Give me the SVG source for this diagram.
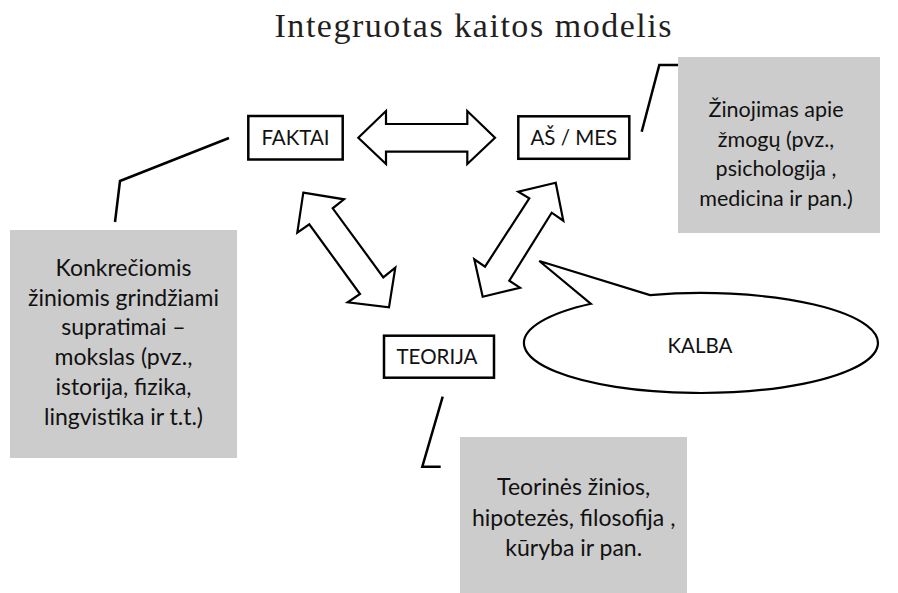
<svg xmlns="http://www.w3.org/2000/svg" width="898" height="593" viewBox="0 0 898 593">
<style>
.box{fill:#fff;stroke:#000;stroke-width:2.5}
.gray{fill:#cccccc}
.lbl{font-family:Lato,"Open Sans",sans-serif;font-size:20.5px;fill:#111;text-anchor:middle}
.txt{font-family:Lato,"Open Sans",sans-serif;font-size:23px;fill:#111;text-anchor:middle}
.sm{font-size:21.5px}
.arrow{fill:#fff;stroke:#000;stroke-width:2.2;stroke-linejoin:miter}
.lead{fill:none;stroke:#000;stroke-width:2.5}
.title{font-family:"Liberation Serif",serif;font-size:34px;fill:#231f20;text-anchor:middle}
</style>
<rect width="898" height="593" fill="#fff"/>
<text class="title" x="473" y="37" textLength="397" lengthAdjust="spacing">Integruotas kaitos modelis</text>

<g id="note-asmes">
<rect class="gray" x="678" y="57" width="202" height="176"/>
<text class="txt sm" x="776" y="117">Žinojimas apie</text>
<text class="txt sm" x="776" y="147">žmogų (pvz.,</text>
<text class="txt sm" x="776" y="176">psichologija ,</text>
<text class="txt sm" x="776" y="206">medicina ir pan.)</text>
</g>
<g id="note-faktai">
<rect class="gray" x="10" y="230" width="227" height="228"/>
<text class="txt" x="123.5" y="276">Konkrečiomis</text>
<text class="txt" x="123.5" y="306">žiniomis grindžiami</text>
<text class="txt" x="123.5" y="335">supratimai –</text>
<text class="txt" x="123.5" y="365">mokslas (pvz.,</text>
<text class="txt" x="123.5" y="395">istorija, fizika,</text>
<text class="txt" x="123.5" y="425">lingvistika ir t.t.)</text>
</g>
<g id="note-teorija">
<rect class="gray" x="460" y="437" width="227" height="156"/>
<text class="txt" x="573.7" y="495">Teorinės žinios,</text>
<text class="txt" x="573.7" y="526">hipotezės, filosofija ,</text>
<text class="txt" x="573.7" y="556">kūryba ir pan.</text>
</g>

<g id="faktai">
<rect class="box" x="248.3" y="116" width="94.4" height="43.5"/>
<text class="lbl" x="295.5" y="144.5">FAKTAI</text>
</g>
<g id="as-mes">
<rect class="box" x="518.3" y="116.3" width="111" height="42.5"/>
<text class="lbl" x="573.8" y="144.5">AŠ / MES</text>
</g>
<g id="teorija">
<rect class="box" x="384" y="335.7" width="110" height="42"/>
<text class="lbl" x="437" y="364.3">TEORIJA</text>
</g>
<g id="kalba">
<path class="arrow" d="M539.3,261 L650,295.1 A177,50 0 1 1 591,303.8 Z"/>
<text class="lbl" x="700" y="353">KALBA</text>
</g>

<g id="connectors">
<polygon class="arrow" points="358.3,137.7 386,111 386,124 467.3,124 467.3,111 495,137.7 467.3,164 467.3,151.7 386,151.7 386,164"/>
<polygon class="arrow" points="303.3,192.7 344,199.3 332.7,208.3 383.3,277.3 395.3,267.7 389,307.3 347.7,302.3 360,294 309.3,224.3 297.3,232.7"/>
<polygon class="arrow" points="555.7,182.7 518.3,191.7 529.3,198.3 485,266.7 474.3,259.3 482.7,296.7 520,287.7 509.3,280.7 551.7,212.7 563.3,220.7"/>
<polyline class="lead" points="229,138 120,181 115,222"/>
<polyline class="lead" points="641.7,131.7 659.3,65 678,65"/>
<polyline class="lead" points="442.7,396.7 422.3,466.7 440.7,466.7"/>
</g>
</svg>
